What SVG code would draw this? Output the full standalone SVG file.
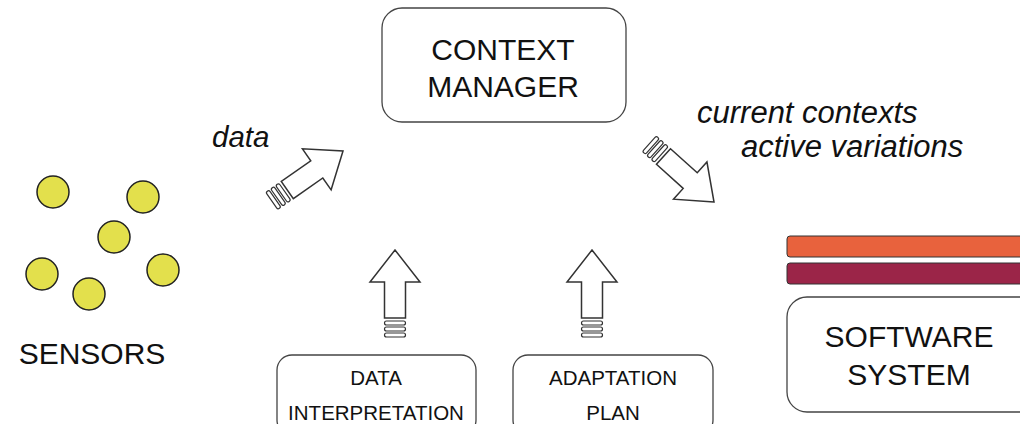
<svg xmlns="http://www.w3.org/2000/svg" width="1020" height="424" viewBox="0 0 1020 424">
<defs>
<style>
.box{fill:#fff;stroke:#444;stroke-width:1.3}
.t{font-family:"Liberation Sans",Arial,sans-serif;fill:#111;text-anchor:middle}
.lbl{font-family:"Liberation Sans",Arial,sans-serif;fill:#111;font-style:italic;font-size:31px}
.sensor{fill:#e3e04c;stroke:#222;stroke-width:1.5}
.arr{fill:#fff;stroke:#333;stroke-width:1.5;stroke-linejoin:miter}
.stripe{fill:#fff;stroke:#333;stroke-width:1.2}
</style>
<g id="blockArrow">
<polygon class="arr" points="0,0 25,32 10.5,32 10.5,68 -10.5,68 -10.5,32 -25,32"/>
<rect class="stripe" x="-10.5" y="71" width="21" height="4" rx="2"/>
<rect class="stripe" x="-10.5" y="77" width="21" height="4" rx="2"/>
<rect class="stripe" x="-10.5" y="83" width="21" height="4" rx="2"/>
</g>
</defs>
<rect width="1020" height="424" fill="#fff"/>

<g id="sensors">
<circle class="sensor" cx="53" cy="192" r="16"/>
<circle class="sensor" cx="143" cy="197" r="16"/>
<circle class="sensor" cx="114" cy="237" r="16"/>
<circle class="sensor" cx="42" cy="274" r="16"/>
<circle class="sensor" cx="163" cy="270" r="16"/>
<circle class="sensor" cx="89" cy="294" r="16"/>
<text class="t" x="92" y="364" font-size="30">SENSORS</text>
</g>

<g id="context-manager">
<rect class="box" x="382" y="8" width="244" height="114" rx="20"/>
<text class="t" x="503" y="60" font-size="30">CONTEXT</text>
<text class="t" x="503" y="97" font-size="30">MANAGER</text>
</g>

<g id="data-interpretation">
<rect class="box" x="277" y="355" width="199" height="80" rx="15"/>
<text class="t" x="376" y="385" font-size="20.5">DATA</text>
<text class="t" x="376" y="420" font-size="20.5">INTERPRETATION</text>
</g>

<g id="adaptation-plan">
<rect class="box" x="513" y="355" width="200" height="80" rx="15"/>
<text class="t" x="613" y="385" font-size="20.5">ADAPTATION</text>
<text class="t" x="613" y="420" font-size="20.5">PLAN</text>
</g>

<g id="software-system">
<rect x="787" y="236" width="250" height="21" rx="3" fill="#e8623d" stroke="#333" stroke-width="1"/>
<rect x="787" y="263" width="250" height="21" rx="3" fill="#9b2548" stroke="#333" stroke-width="1"/>
<rect class="box" x="787" y="297" width="260" height="115" rx="20"/>
<text class="t" x="909" y="347" font-size="30">SOFTWARE</text>
<text class="t" x="909" y="385" font-size="30">SYSTEM</text>
</g>

<g id="connectors">
<use href="#blockArrow" transform="translate(343,151) rotate(55)"/>
<use href="#blockArrow" transform="translate(714,202) rotate(132)"/>
<use href="#blockArrow" transform="translate(395,250)"/>
<use href="#blockArrow" transform="translate(592,250)"/>
<text class="lbl" x="212" y="147" font-size="29.5" style="font-size:29.5px">data</text>
<text class="lbl" x="697" y="123">current contexts</text>
<text class="lbl" x="741" y="157">active variations</text>
</g>
</svg>
